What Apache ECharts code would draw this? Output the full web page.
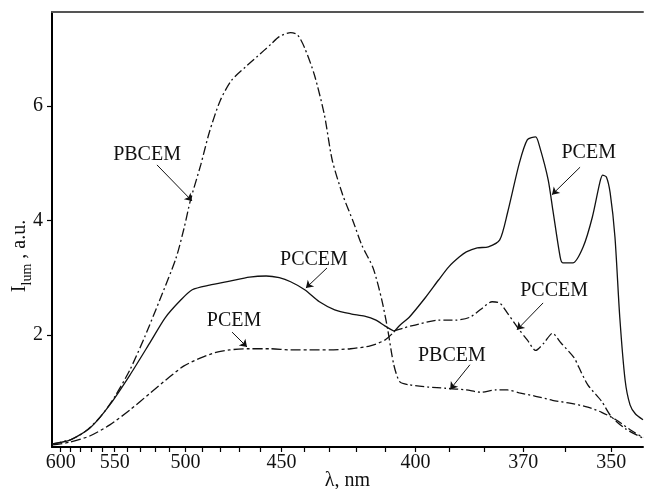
<!DOCTYPE html>
<html><head><meta charset="utf-8">
<script src="https://cdn.jsdelivr.net/npm/echarts@6/dist/echarts.min.js"></script>
<style>html,body{margin:0;padding:0;background:#fff}#c{width:645px;height:489px}</style>
</head><body><div id="c"></div>
<script>
// ---- axis ticks (wavelength, nm; axis is linear in 1/lambda^2) ----
const xTickNm = [600,590,580,570,560,550,540,530,520,510,500,490,480,470,460,450,440,430,420,410,400,390,380,370,360,350];
const xLabelNm = [600,550,500,450,400,370,350];
const yTicks = [2,4,6];
const xRangeNm = [609.4, 343.5];
const yRange = [0.044, 7.64];

// ---- series: PBCEM ----
const pbcemNm  = [609,590,576,562,550,538,527,516,506,501,497,491,486,480,474,467,461,455,451,446,443,440,436,432,429,425,421,418,414,411,409,407,405,402,396,391,385,381,377,374,371,367,363,359,355,352,349,346,343.5];
const pbcemVal = [0.10,0.17,0.31,0.57,0.92,1.39,1.97,2.65,3.34,3.86,4.36,4.97,5.55,6.10,6.45,6.68,6.87,7.07,7.21,7.28,7.24,7.01,6.54,5.84,5.06,4.45,3.97,3.57,3.17,2.61,2.09,1.48,1.18,1.13,1.09,1.07,1.04,1.00,1.04,1.04,0.99,0.93,0.86,0.81,0.74,0.65,0.52,0.34,0.21];

// ---- series: PCCEM ----
const pccemNm  = [609,590,571,554,538,523,513,503,496,486,475,465,457,451,446,440,434,428,422,417,413,410,407,404,399,393,388,384,381,378,376,374,371,369,367,365,363,361,358,357,355,352,350,347,343.5];
const pccemVal = [0.10,0.17,0.38,0.78,1.30,1.88,2.30,2.61,2.79,2.87,2.94,3.01,3.03,3.00,2.93,2.79,2.58,2.44,2.37,2.33,2.26,2.16,2.07,2.12,2.19,2.26,2.26,2.31,2.45,2.58,2.56,2.38,2.09,1.91,1.73,1.86,2.03,1.86,1.60,1.44,1.13,0.84,0.58,0.36,0.20];

// ---- series: PCEM ----
const pcemNm  = [609,590,571,554,538,523,510,501,491,483,475,465,455,446,438,430,422,415,410,407,405,402,397,393,390,387,385,382,379,376,374,371,369,367,366,364,362.9,361.2,360.6,358.3,356,354,352.4,351.8,351,350.2,349.2,348.2,347.1,346.1,345,343.5];
const pcemVal = [0.08,0.13,0.24,0.43,0.69,0.99,1.27,1.46,1.60,1.69,1.74,1.76,1.76,1.74,1.74,1.74,1.76,1.81,1.91,2.05,2.17,2.31,2.65,2.96,3.19,3.36,3.45,3.52,3.54,3.66,4.13,5.00,5.41,5.46,5.28,4.71,4.18,3.36,3.26,3.26,3.54,4.06,4.66,4.79,4.76,4.48,3.71,2.31,1.21,0.78,0.62,0.52];

// wavelength where the drawn line style changes (curves cross)
const styleSplitNm = 407;

// ---- annotations ----
const annText    = ['PBCEM','PCCEM','PCEM','PCEM','PCCEM','PBCEM'];
const annTextNm  = [525.4, 436.2, 472.8, 354.8, 362.6, 389.1];
const annTextVal = [5.14, 3.31, 2.24, 5.18, 2.77, 1.63];
const annFromNm  = [518.5, 431.0, 473.8, 356.7, 365.2, 384.0];
const annFromVal = [4.97, 3.17, 2.05, 4.93, 2.56, 1.48];
const annToNm    = [496.1, 439.5, 466.2, 363.1, 371.6, 389.6];
const annToVal   = [4.34, 2.82, 1.79, 4.45, 2.09, 1.05];

const toU = nm => 1e6 / (nm * nm);
const pts = (nm, v, keep) => nm.map((n, i) => [n, v[i]]).filter(p => keep(p[0])).map(p => [toU(p[0]), p[1]]);

const FONT = 'Liberation Serif, Times New Roman, serif';
const INK = '#111';
const DASHDOT = [9, 3, 2, 3];
const DASHED = [10, 3, 3, 3];

function lineSeries(name, data, type) {
  return {
    name, type: 'line', data, showSymbol: false, smooth: 0.25, silent: true,
    lineStyle: { color: INK, width: 1.3, type: type },
    animation: false
  };
}

const chart = echarts.init(document.getElementById('c'), null, { renderer: 'canvas' });
chart.setOption({
  backgroundColor: '#fff',
  animation: false,
  grid: { left: 52, right: 2, top: 12, bottom: 42, outerBoundsMode: 'none' },
  xAxis: [{
    type: 'value', min: toU(xRangeNm[0]), max: toU(xRangeNm[1]),
    name: 'λ, nm', nameLocation: 'middle', nameGap: 24, nameMoveOverlap: false,
    nameTextStyle: { fontFamily: FONT, fontSize: 20, color: INK },
    axisLine: { show: true, lineStyle: { color: '#000', width: 2 } },
    axisTick: { show: true, inside: false, length: 5, customValues: xTickNm.map(toU), lineStyle: { color: '#000', width: 1.2 } },
    axisLabel: { show: true, margin: 6, customValues: xLabelNm.map(toU), fontFamily: FONT, fontSize: 20, color: INK,
      formatter: v => String(Math.round(1000 / Math.sqrt(v))) },
    splitLine: { show: false }
  }, {
    type: 'value', position: 'top', min: toU(xRangeNm[0]), max: toU(xRangeNm[1]),
    axisLine: { show: true, lineStyle: { color: '#555', width: 2 } },
    axisTick: { show: false }, axisLabel: { show: false }, splitLine: { show: false }
  }],
  yAxis: {
    type: 'value', min: yRange[0], max: yRange[1],
    name: '{i|I}{s|lum}{i| , a.u.}', nameLocation: 'middle', nameGap: 18, nameMoveOverlap: false,
    nameTextStyle: { fontFamily: FONT, fontSize: 20, color: INK, padding: [0, 53, 0, 0],
      rich: { i: { fontFamily: FONT, fontSize: 20, color: INK },
              s: { fontFamily: FONT, fontSize: 14, color: INK, verticalAlign: 'bottom', lineHeight: 28 } } },
    axisLine: { show: true, lineStyle: { color: '#000', width: 2 } },
    axisTick: { show: true, inside: false, length: 5, customValues: yTicks, lineStyle: { color: '#000', width: 1.2 } },
    axisLabel: { show: true, margin: 9, customValues: yTicks, fontFamily: FONT, fontSize: 20, color: INK },
    splitLine: { show: false }
  },
  series: [
    lineSeries('PBCEM', pts(pbcemNm, pbcemVal, () => true), DASHDOT),
    lineSeries('PCCEM', pts(pccemNm, pccemVal, n => n >= styleSplitNm), 'solid'),
    lineSeries('PCCEM', pts(pccemNm, pccemVal, n => n <= styleSplitNm), DASHDOT),
    lineSeries('PCEM', pts(pcemNm, pcemVal, n => n >= styleSplitNm), DASHED),
    lineSeries('PCEM', pts(pcemNm, pcemVal, n => n <= styleSplitNm), 'solid'),
    {
      name: 'labels', type: 'scatter', silent: true, symbolSize: 1,
      itemStyle: { color: 'rgba(0,0,0,0)' },
      data: annText.map((t, i) => ({ name: t, value: [toU(annTextNm[i]), annTextVal[i]] })),
      label: { show: true, position: 'inside', formatter: p => p.name, fontFamily: FONT, fontSize: 20, color: INK, opacity: 1 },
      markLine: {
        silent: true, symbol: ['none', 'arrow'], symbolSize: 7, animation: false,
        label: { show: false },
        lineStyle: { color: INK, width: 1, type: 'solid' },
        data: annText.map((t, i) => [
          { coord: [toU(annFromNm[i]), annFromVal[i]] },
          { coord: [toU(annToNm[i]), annToVal[i]] }
        ])
      },
      animation: false
    }
  ]
});
</script>
</body></html>
